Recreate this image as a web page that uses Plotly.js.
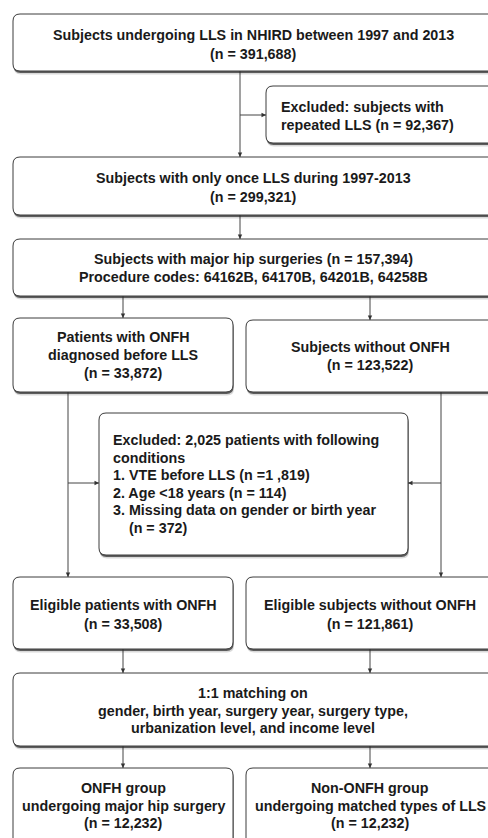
<!DOCTYPE html>
<html><head><meta charset="utf-8">
<script src="https://cdn.plot.ly/plotly-3.0.1.min.js"></script>
<style>html,body{margin:0;padding:0;background:#fff;}#chart{width:488px;height:838px;}</style>
</head><body><div id="chart"></div>
<script>
// ---- content (text of each box) ----
const step1Lines = ["Subjects undergoing LLS in NHIRD between 1997 and 2013", "(n = 391,688)"];
const excl1Lines = ["Excluded: subjects with", "repeated LLS (n = 92,367)"];
const step2Lines = ["Subjects with only once LLS during 1997-2013", "(n = 299,321)"];
const step3Lines = ["Subjects with major hip surgeries (n = 157,394)", "Procedure codes: 64162B, 64170B, 64201B, 64258B"];
const onfhLines = ["Patients with ONFH", "diagnosed before LLS", "(n = 33,872)"];
const nonOnfhLines = ["Subjects without ONFH", "(n = 123,522)"];
const excl2Lines = ["Excluded: 2,025 patients with following", "conditions", "1. VTE before LLS (n =1 ,819)", "2. Age <18 years (n = 114)", "3. Missing data on gender or birth year", "\u00a0\u00a0\u00a0\u00a0(n = 372)"];
const eligOnfhLines = ["Eligible patients with ONFH", "(n = 33,508)"];
const eligNonLines = ["Eligible subjects without ONFH", "(n = 121,861)"];
const matchLines = ["1:1 matching on", "gender, birth year, surgery year, surgery type,", "urbanization level, and income level"];
const finalOnfhLines = ["ONFH group", "undergoing major hip surgery", "(n = 12,232)"];
const finalNonLines = ["Non-ONFH group", "undergoing matched types of LLS", "(n = 12,232)"];

// ---- geometry (layout only) ----
const boxes = [
  {x0:13, x1:496, y0:14, y1:71, lines:step1Lines, tx:253, align:'center', ty:35, dy:19},
  {x0:266, x1:510, y0:86, y1:143, lines:excl1Lines, tx:279, align:'left', ty:107, dy:18},
  {x0:13, x1:496, y0:157, y1:215, lines:step2Lines, tx:253, align:'center', ty:178, dy:19},
  {x0:13, x1:496, y0:239, y1:296, lines:step3Lines, tx:253, align:'center', ty:259, dy:18},
  {x0:13, x1:233, y0:318, y1:392, lines:onfhLines, tx:123, align:'center', ty:337, dy:18},
  {x0:246, x1:496, y0:320, y1:392, lines:nonOnfhLines, tx:370, align:'center', ty:347, dy:18},
  {x0:99, x1:408, y0:413, y1:555, lines:excl2Lines, tx:111, align:'left', ty:440, dy:17.6},
  {x0:13, x1:233, y0:577, y1:649, lines:eligOnfhLines, tx:123, align:'center', ty:605, dy:19},
  {x0:246, x1:496, y0:577, y1:649, lines:eligNonLines, tx:370, align:'center', ty:605, dy:19},
  {x0:13, x1:496, y0:673, y1:746, lines:matchLines, tx:253, align:'center', ty:693, dy:17.6},
  {x0:13, x1:233, y0:768, y1:860, lines:finalOnfhLines, tx:123, align:'center', ty:788, dy:17.6},
  {x0:246, x1:496, y0:768, y1:860, lines:finalNonLines, tx:370, align:'center', ty:788, dy:17.6}
];
// connectors: [x0,y0,x1,y1]
const connectors = [
  [240,71,240,157],
  [240,115,266,115],
  [240,215,240,239],
  [123,296,123,318],
  [370,296,370,320],
  [68,392,68,577],
  [68,483,99,483],
  [441,392,441,577],
  [441,483,408,483],
  [123,649,123,673],
  [370,649,370,673],
  [123,746,123,768],
  [370,746,370,768]
];

function rr(x0,y0,x1,y1,r){
  return `M ${x0+r},${y0} L ${x1-r},${y0} Q ${x1},${y0} ${x1},${y0+r} L ${x1},${y1-r} Q ${x1},${y1} ${x1-r},${y1} L ${x0+r},${y1} Q ${x0},${y1} ${x0},${y1-r} L ${x0},${y0+r} Q ${x0},${y0} ${x0+r},${y0} Z`;
}

const shapes = [];
const annotations = [];
const FS = 14.3;

connectors.forEach(c => {
  shapes.push({type:'line', x0:c[0], y0:c[1], x1:c[2], y1:c[3], line:{color:'#444', width:1}, layer:'below'});
  const dx = Math.sign(c[2]-c[0]), dy = Math.sign(c[3]-c[1]);
  const tx = c[2], ty = c[3];
  const L = 4.5, W = 2.2;
  let p;
  if (dy !== 0) p = `M ${tx},${ty} L ${tx-W},${ty-dy*L} L ${tx+W},${ty-dy*L} Z`;
  else p = `M ${tx},${ty} L ${tx-dx*L},${ty-W} L ${tx-dx*L},${ty+W} Z`;
  shapes.push({type:'path', path:p, fillcolor:'#333', line:{width:0}, layer:'below'});
});

boxes.forEach(b => {
  shapes.push({type:'path', path:rr(b.x0+1,b.y0+3.5,b.x1+1,b.y1+3.5,7), fillcolor:'rgba(0,0,0,0.15)', line:{width:0}});
  shapes.push({type:'path', path:rr(b.x0+0.5,b.y0+2,b.x1+0.5,b.y1+2,7), fillcolor:'rgba(40,40,40,0.7)', line:{width:0}});
  shapes.push({type:'path', path:rr(b.x0,b.y0,b.x1,b.y1,7), fillcolor:'#ffffff', line:{color:'#3c3c3c', width:1}});
  b.lines.forEach((t, i) => {
    annotations.push({
      x:b.tx, y:b.ty + i*b.dy, xref:'x', yref:'y', showarrow:false,
      text:t,
      xanchor: b.align==='left' ? 'left' : 'center', yanchor:'middle', align:b.align,
      font:{family:'Liberation Sans, Arial, sans-serif', size:FS, color:'#1a1a1a', weight:'bold'}
    });
  });
});

const layout = {
  width:488, height:838,
  margin:{l:0,r:0,t:0,b:0},
  paper_bgcolor:'#ffffff', plot_bgcolor:'#ffffff',
  xaxis:{range:[0,488], visible:false, fixedrange:true},
  yaxis:{range:[838,0], visible:false, fixedrange:true},
  shapes:shapes, annotations:annotations, showlegend:false
};
Plotly.newPlot('chart', [], layout, {displayModeBar:false, staticPlot:true});
</script></body></html>
